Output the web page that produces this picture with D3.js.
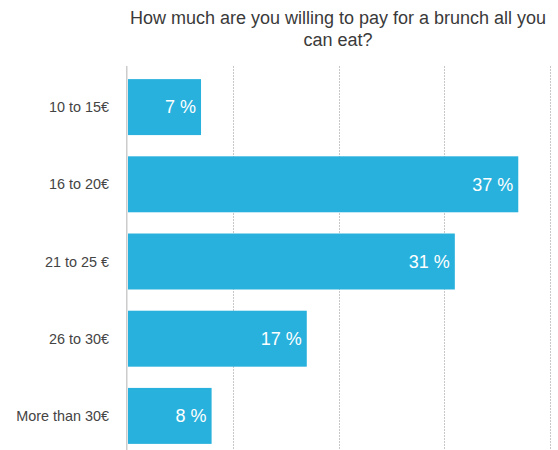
<!DOCTYPE html>
<html><head><meta charset="utf-8">
<script src="https://cdn.jsdelivr.net/npm/d3@7"></script>
<style>body{margin:0;background:#fff}svg{display:block}</style>
</head><body>
<div id="chart"></div>
<script>
const categories = ["10 to 15€", "16 to 20€", "21 to 25 €", "26 to 30€", "More than 30€"];
const values = [7, 37, 31, 17, 8];
const ticks = [0, 10, 20, 30, 40];
const titleLines = ["How much are you willing to pay for a brunch all you", "can eat?"];

const W = 558, H = 450;
const font = "'Liberation Sans', Arial, Helvetica, sans-serif";
const svg = d3.select("#chart").append("svg").attr("width", W).attr("height", H);

const x = d3.scaleLinear().domain([0, 40]).range([127, 550]);
const y = d3.scaleBand().domain(categories).range([68.5, 454.5]).paddingInner(0.275).paddingOuter(0.1375);

// gridlines
svg.append("g").selectAll("line").data(ticks.slice(1)).join("line")
  .attr("x1", d => Math.round(x(d)) + 0.5).attr("x2", d => Math.round(x(d)) + 0.5)
  .attr("y1", 66).attr("y2", H)
  .attr("stroke", "#c8c8c8").attr("stroke-width", 1).attr("stroke-dasharray", "2,1");

// bars
svg.append("g").selectAll("rect").data(values).join("rect")
  .attr("x", x(0) + 1)
  .attr("y", (d, i) => y(categories[i]))
  .attr("width", d => x(d) - x(0) - 1)
  .attr("height", y.bandwidth())
  .attr("fill", "#28b1dd");

// axis line
svg.append("line").attr("x1", 126.75).attr("x2", 126.75).attr("y1", 66).attr("y2", H)
  .attr("stroke", "#cccccc").attr("stroke-width", 1.5);

// category labels
svg.append("g").selectAll("text").data(categories).join("text")
  .attr("x", 109).attr("y", d => y(d) + y.bandwidth() / 2)
  .attr("dy", "0.35em").attr("text-anchor", "end")
  .attr("font-family", font).attr("font-size", 14.4).attr("fill", "#444")
  .text(d => d);

// value labels
svg.append("g").selectAll("text").data(values).join("text")
  .attr("x", d => x(d) - 5).attr("y", (d, i) => y(categories[i]) + y.bandwidth() / 2)
  .attr("dy", "0.35em").attr("text-anchor", "end")
  .attr("font-family", font).attr("font-size", 18).attr("fill", "#fff")
  .text(d => d + " %");

// title
svg.append("g").selectAll("text").data(titleLines).join("text")
  .attr("x", 338).attr("y", (d, i) => 24 + i * 22)
  .attr("text-anchor", "middle")
  .attr("font-family", font).attr("font-size", 18).attr("fill", "#3a3a3a")
  .text(d => d);
</script>
</body></html>
